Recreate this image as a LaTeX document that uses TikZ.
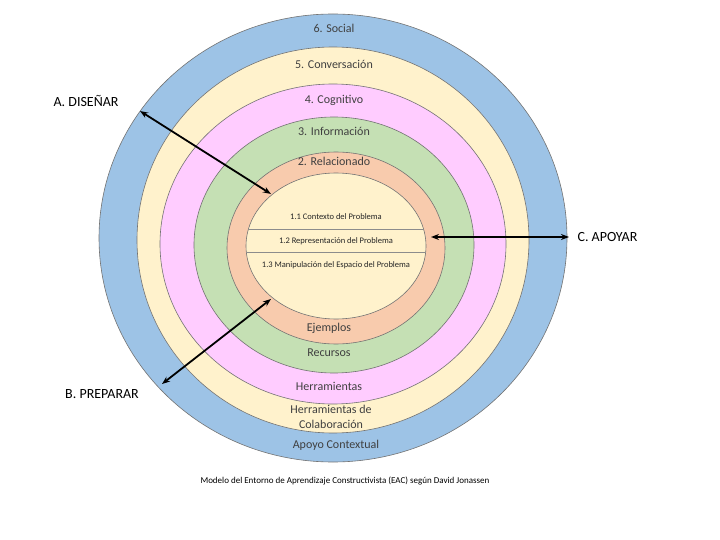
\documentclass[tikz,border=0pt]{standalone}
\usepackage{fontspec}
\setmainfont{Carlito}
\usetikzlibrary{arrows.meta}
\definecolor{cblue}{HTML}{9DC3E6}
\definecolor{ccream}{HTML}{FFF2CC}
\definecolor{cpink}{HTML}{FFCCFF}
\definecolor{cgreen}{HTML}{C5E0B4}
\definecolor{csalmon}{HTML}{F8CBAD}
\definecolor{ctext}{HTML}{404040}
\begin{document}
\begin{tikzpicture}[x=1pt,y=-1pt,
  ring/.style={draw=black!55,line width=0.6pt},
  lab/.style={font=\fontsize{12}{13}\selectfont,text=ctext,align=center},
  inn/.style={font=\fontsize{8.5}{9}\selectfont,text=black!85},
  big/.style={font=\fontsize{14}{15}\selectfont},
  arr/.style={{Stealth[length=8pt,width=6pt]}-{Stealth[length=8pt,width=6pt]},line width=1.8pt}]
\useasboundingbox (0,0) rectangle (720,540);
\fill[white] (0,0) rectangle (720,540);
\draw[ring,fill=cblue] (333,238) ellipse [x radius=234,y radius=224];
\draw[ring,fill=ccream] (333,240) ellipse [x radius=196,y radius=193];
\draw[ring,fill=cpink] (333,244) ellipse [x radius=173,y radius=160];
\draw[ring,fill=cgreen] (334,245) ellipse [x radius=140,y radius=128];
\draw[ring,fill=csalmon] (336,248) ellipse [x radius=109,y radius=96];
\draw[ring,fill=ccream] (336,246) ellipse [x radius=90,y radius=73];
\begin{scope}
\clip (336,246) ellipse [x radius=90,y radius=73];
\draw[black!45,line width=0.6pt] (240,229) -- (430,229);
\draw[black!45,line width=0.6pt] (240,252) -- (430,252);
\end{scope}
\node[lab] (l6) at (334,28) {6. Social};
\node[lab] (l5) at (334,64) {5. Conversación};
\node[lab] (l4) at (334,100) {4. Cognitivo};
\node[lab] (l3) at (334,131) {3. Información};
\node[lab] (l2) at (334,161) {2. Relacionado};
\node[inn] (i1) at (336,217) {1.1 Contexto del Problema};
\node[inn] (i2) at (336,241) {1.2 Representación del Problema};
\node[inn] (i3) at (336,265) {1.3 Manipulación del Espacio del Problema};
\node[lab] (e) at (329,328) {Ejemplos};
\node[lab] (r) at (329,353) {Recursos};
\node[lab] (h) at (329,386) {Herramientas};
\node[lab,font=\fontsize{12}{15}\selectfont] (hc) at (331,417) {Herramientas de\\Colaboración};
\node[lab] (ac) at (336,445) {Apoyo Contextual};
\node[font=\fontsize{9}{10}\selectfont] (cap) at (345,481) {Modelo del Entorno de Aprendizaje Constructivista (EAC) según David Jonassen};
\node[big,anchor=west] (A) at (50,101) {A. DISEÑAR};
\node[big] (B) at (102,394) {B. PREPARAR};
\node[big,anchor=west] (C) at (574,237) {C. APOYAR};
\coordinate (a1) at (140,111); \coordinate (a2) at (271,194);
\coordinate (b1) at (162,384); \coordinate (b2) at (271,299);
\coordinate (c1) at (431,237); \coordinate (c2) at (569,237);
\draw[arr] (a1) -- (a2);
\draw[arr] (b1) -- (b2);
\draw[arr] (c1) -- (c2);
\end{tikzpicture}
\end{document}
